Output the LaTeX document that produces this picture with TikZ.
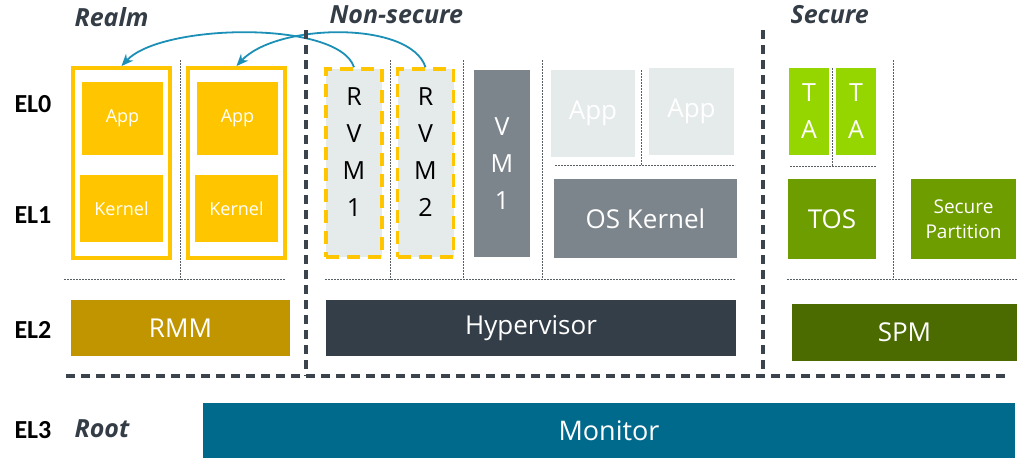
\documentclass[tikz,border=0pt]{standalone}
\usepackage{fontspec}
\setmainfont{Open Sans}
\newfontfamily\elfont{Carlito}
\usetikzlibrary{arrows.meta, positioning}
\definecolor{armyellow}{HTML}{FFC600}
\definecolor{rmmgold}{HTML}{C09500}
\definecolor{lightgrey}{HTML}{E5EAEA}
\definecolor{midgrey}{HTML}{7D858C}
\definecolor{hypgrey}{HTML}{343E48}
\definecolor{tagreen}{HTML}{95D600}
\definecolor{osgreen}{HTML}{6E9D00}
\definecolor{spmgreen}{HTML}{4B6A00}
\definecolor{monblue}{HTML}{006A8C}
\definecolor{callblue}{HTML}{1B8FB5}
\definecolor{titlegrey}{HTML}{343D46}
\definecolor{sepgrey}{HTML}{5A5F64}
\definecolor{wallgrey}{HTML}{3B434C}

\begin{document}
\begin{tikzpicture}[
    x=1pt, y=-1pt,
    blk/.style={rectangle, inner sep=0pt, align=center, text=white, font=\fontsize{26}{30}\selectfont},
    small/.style={blk, font=\fontsize{18}{22}\selectfont},
    tall/.style={blk, font=\fontsize{25}{37}\selectfont},
    realm/.style={rectangle, draw=armyellow, line width=4pt, fill=white, minimum width=97pt, minimum height=190pt},
    rvm/.style={tall, draw=armyellow, line width=3.5pt, dash pattern=on 13pt off 8pt, fill=lightgrey, text=black, minimum width=56pt, minimum height=188pt},
    world/.style={anchor=west, text=titlegrey, font=\fontsize{25}{30}\selectfont\bfseries\itshape},
    elabel/.style={anchor=west, font=\elfont\bfseries\fontsize{26}{30}\selectfont},
    sepline/.style={draw=sepgrey, line width=0.8pt, dash pattern=on 2pt off 1pt},
    wall/.style={draw=wallgrey, line width=3.5pt, dash pattern=on 9pt off 6pt},
    call/.style={->, >={Stealth[length=12pt, width=10pt]}, draw=callblue, line width=1.8pt}
]
\useasboundingbox (0,0) rectangle (1027,467);

% Exception levels and worlds
\node[elabel] (el0) at (11,104) {EL0};
\node[elabel] (el1) at (11,215) {EL1};
\node[elabel] (el2) at (11,330) {EL2};
\node[elabel] (el3) at (11,430) {EL3};
\node[world] (wrealm) at (71,17) {Realm};
\node[world] (wns) at (326,15) {Non-secure};
\node[world] (wsec) at (787,15) {Secure};
\node[world] (wroot) at (71,429) {Root};

% Separators
\draw[sepline] (180,60) -- (180,280);
\draw[sepline] (64,279) -- (285,279);
\draw[sepline] (390,60) -- (390,280);
\draw[sepline] (463,60) -- (463,280);
\draw[sepline] (542,60) -- (542,280);
\draw[sepline] (325,279) -- (735,279);
\draw[sepline] (641,70) -- (641,165);
\draw[sepline] (555,165) -- (735,165);
\draw[sepline] (832,68) -- (832,166);
\draw[sepline] (790,166) -- (876,166);
\draw[sepline] (893,60) -- (893,280);
\draw[sepline] (787,279) -- (1017,279);

% Realm world
\node[realm] (realm1) at (121.5,163) {};
\node[realm] (realm2) at (236.5,163) {};
\node[small, fill=armyellow, minimum width=81pt, minimum height=73pt] (rapp1) at (122.5,118.5) {App};
\node[small, fill=armyellow, minimum width=83pt, minimum height=67pt] (rker1) at (121.5,208.5) {Kernel};
\node[small, fill=armyellow, minimum width=81pt, minimum height=73pt] (rapp2) at (237.5,118.5) {App};
\node[small, fill=armyellow, minimum width=83pt, minimum height=67pt] (rker2) at (236.5,208.5) {Kernel};
\node[blk, fill=rmmgold, minimum width=219pt, minimum height=56pt] (rmm) at (180.5,328) {RMM};

% Non-secure world
\node[rvm] (rvm1) at (354,163) {\parbox[c][150pt][t]{40pt}{\centering R\\V\\M\\1}};
\node[rvm] (rvm2) at (425.5,163) {\parbox[c][150pt][t]{40pt}{\centering R\\V\\M\\2}};
\node[tall, fill=midgrey, minimum width=56pt, minimum height=187pt] (vm1) at (502,163.5) {V\\M\\1};
\node[blk, fill=lightgrey, minimum width=84pt, minimum height=87pt] (nsapp1) at (593,113.5) {App};
\node[blk, fill=lightgrey, minimum width=85pt, minimum height=87pt] (nsapp2) at (691.5,111.5) {App};
\node[blk, fill=midgrey, minimum width=183pt, minimum height=79pt] (oskernel) at (645.5,218.5) {OS Kernel};
\node[blk, fill=hypgrey, minimum width=410pt, minimum height=56pt] (hyp) at (531,328) {Hypervisor};

% Secure world
\node[tall, fill=tagreen, minimum width=40pt, minimum height=87pt] (ta1) at (809,111.5) {T\\A};
\node[tall, fill=tagreen, minimum width=40pt, minimum height=87pt] (ta2) at (856,111.5) {T\\A};
\node[blk, fill=osgreen, minimum width=88pt, minimum height=80pt] (tos) at (832,219) {TOS};
\node[blk, fill=osgreen, font=\fontsize{19}{25}\selectfont, minimum width=105pt, minimum height=80pt] (sp) at (963.5,219) {Secure\\Partition};
\node[blk, fill=spmgreen, minimum width=225pt, minimum height=57pt] (spm) at (904.5,332.5) {SPM};

% Root
\node[blk, fill=monblue, font=\fontsize{27}{30}\selectfont, minimum width=812pt, minimum height=55pt] (monitor) at (609,430.5) {Monitor};

% Arrows
\draw[call] (rvm1.north) .. controls +(-15,-47) and +(40,-43) .. (realm1.north);
\draw[call] (rvm2.north) .. controls +(-15,-47) and +(40,-43) .. (realm2.north);

% World borders
\draw[wall] (306,30) -- (306,376);
\draw[wall] (763,30) -- (763,376);
\draw[wall] (66,376) -- (1006,376);

\end{tikzpicture}
\end{document}
